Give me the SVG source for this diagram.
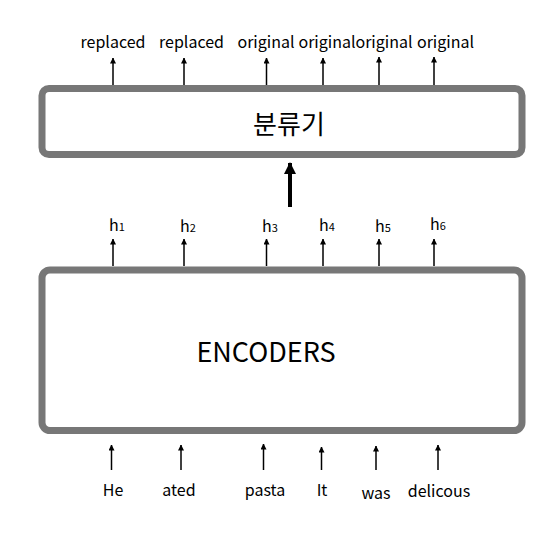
<svg xmlns="http://www.w3.org/2000/svg" width="553" height="541" viewBox="0 0 553 541">
<defs>
<marker id="ah" viewBox="0 0 6 6" refX="5.5" refY="3" markerWidth="6" markerHeight="6" markerUnits="userSpaceOnUse" orient="auto">
<path d="M0,0 L6,3 L0,6 Z" fill="#000"/>
</marker>
<marker id="big" viewBox="0 0 12 12" refX="11" refY="6" markerWidth="12" markerHeight="12" markerUnits="userSpaceOnUse" orient="auto">
<path d="M0,0 L12,6 L0,12 Z" fill="#000"/>
</marker>
<style>
.box{fill:#fff;stroke:#777;stroke-width:7}
.t{font-family:"Noto Sans CJK KR","Noto Sans",sans-serif;fill:#000;text-anchor:middle}
.s{font-size:16px}
.c{stroke:#000;stroke-width:1.5;fill:none}
</style>
</defs>
<rect width="553" height="541" fill="#fff"/>
<g id="connectors">
<line class="c" x1="113" y1="85" x2="113" y2="58" marker-end="url(#ah)"/>
<line class="c" x1="184" y1="85" x2="184" y2="58" marker-end="url(#ah)"/>
<line class="c" x1="266.5" y1="85" x2="266.5" y2="58" marker-end="url(#ah)"/>
<line class="c" x1="323" y1="85" x2="323" y2="58" marker-end="url(#ah)"/>
<line class="c" x1="379" y1="85" x2="379" y2="57" marker-end="url(#ah)"/>
<line class="c" x1="434" y1="85" x2="434" y2="57" marker-end="url(#ah)"/>
<line x1="290" y1="207" x2="290" y2="163" stroke="#000" stroke-width="4" marker-end="url(#big)"/>
<line class="c" x1="113" y1="266" x2="113" y2="239" marker-end="url(#ah)"/>
<line class="c" x1="184" y1="266" x2="184" y2="239" marker-end="url(#ah)"/>
<line class="c" x1="266.5" y1="266" x2="266.5" y2="239" marker-end="url(#ah)"/>
<line class="c" x1="323" y1="266" x2="323" y2="239" marker-end="url(#ah)"/>
<line class="c" x1="379" y1="266" x2="379" y2="239" marker-end="url(#ah)"/>
<line class="c" x1="434" y1="266" x2="434" y2="239" marker-end="url(#ah)"/>
<line class="c" x1="111.5" y1="470" x2="111.5" y2="445" marker-end="url(#ah)"/>
<line class="c" x1="181" y1="470" x2="181" y2="445" marker-end="url(#ah)"/>
<line class="c" x1="263.5" y1="470" x2="263.5" y2="444" marker-end="url(#ah)"/>
<line class="c" x1="321.5" y1="470" x2="321.5" y2="447" marker-end="url(#ah)"/>
<line class="c" x1="376" y1="470" x2="376" y2="446" marker-end="url(#ah)"/>
<line class="c" x1="438" y1="470" x2="438" y2="445" marker-end="url(#ah)"/>
</g>
<g id="classifier">
<rect class="box" x="42" y="88.5" width="480" height="66" rx="7"/>
<text class="t" x="289" y="134" font-size="26">분류기</text>
</g>
<g id="encoders">
<rect class="box" x="42" y="270" width="480" height="160.5" rx="8"/>
<text class="t" x="266" y="362" font-size="27">ENCODERS</text>
</g>
<g id="outputs">
<text class="t s" x="113" y="48">replaced</text>
<text class="t s" x="191.5" y="48">replaced</text>
<text class="t s" x="266" y="48">original</text>
<text class="t s" x="327" y="48">original</text>
<text class="t s" x="384" y="48">original</text>
<text class="t s" x="445.5" y="48">original</text>
</g>
<g id="hidden">
<text class="t s" x="117" y="231">h<tspan font-size="11">1</tspan></text>
<text class="t s" x="188" y="232">h<tspan font-size="11">2</tspan></text>
<text class="t s" x="270" y="232">h<tspan font-size="11">3</tspan></text>
<text class="t s" x="327" y="231">h<tspan font-size="11">4</tspan></text>
<text class="t s" x="383" y="232">h<tspan font-size="11">5</tspan></text>
<text class="t s" x="438" y="230">h<tspan font-size="11">6</tspan></text>
</g>
<g id="inputs">
<text class="t s" x="113" y="496">He</text>
<text class="t s" x="179" y="496">ated</text>
<text class="t s" x="265" y="496">pasta</text>
<text class="t s" x="322" y="496">It</text>
<text class="t s" x="376" y="499">was</text>
<text class="t s" x="439" y="497">delicous</text>
</g>
</svg>
